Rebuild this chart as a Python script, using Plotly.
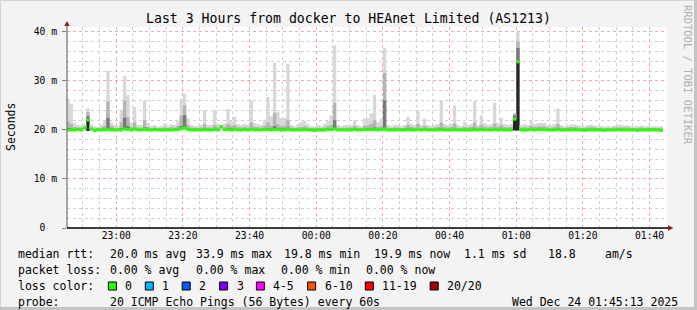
import plotly.graph_objects as go
from datetime import datetime, timedelta

# ---------------- data ----------------
rtt_max = [
    26.3, 25.3, 21.5, 21.0, 21.0, 21.2, 24.5, 21.2, 20.8, 20.6,
    21.0, 21.8, 32.0, 21.5, 21.0, 20.8, 24.1, 31.0, 27.2, 21.5,
    24.7, 21.0, 21.0, 26.0, 21.4, 20.8, 21.0, 20.7, 20.8, 21.3,
    20.9, 21.2, 21.0, 21.8, 26.3, 27.3, 22.4, 21.0, 20.8, 20.8,
    21.0, 24.0, 21.0, 21.0, 24.0, 21.2, 21.0, 21.3, 24.3, 21.8,
    22.7, 21.2, 21.0, 21.2, 21.0, 26.0, 21.4, 21.2, 21.0, 22.0,
    26.7, 22.8, 33.7, 23.7, 22.4, 22.5, 33.5, 21.0, 20.8, 21.2,
    21.6, 21.9, 21.2, 20.8, 20.7, 21.0, 20.8, 21.2, 21.9, 23.0,
    37.2, 21.0, 20.8, 21.0, 21.0, 21.0, 22.0, 21.0, 20.8, 22.3,
    22.4, 23.4, 27.2, 21.6, 22.3, 36.7, 21.0, 20.8, 21.1, 21.0,
    20.8, 21.0, 22.7, 21.2, 21.0, 23.9, 21.0, 22.3, 21.0, 20.8,
    21.0, 21.2, 26.0, 21.2, 21.0, 21.2, 25.0, 21.0, 20.8, 21.6,
    21.0, 21.2, 25.9, 21.0, 23.0, 21.4, 21.0, 21.2, 25.6, 21.4,
    22.5, 21.2, 21.0, 21.2, 23.5, 40.0, 21.0, 21.2, 21.0, 22.0,
    21.2, 21.4, 21.4, 21.4, 21.0, 21.0, 21.2, 24.4, 21.0, 20.8,
    20.9, 21.1, 21.1, 21.0, 20.8, 20.8, 21.0, 21.1, 20.9, 20.8,
    20.8, 20.7, 20.8, 20.7, 20.9, 21.0, 21.0, 20.9, 20.9, 20.8,
    20.7, 20.8, 20.9, 20.8, 20.8, 20.7, 20.8, 20.7, 20.8,
]
rtt_upper = [
    21.6, 21.2, 20.6, 20.5, 20.5, 20.6, 23.6, 20.6, 20.4, 20.4,
    20.5, 20.8, 25.8, 20.8, 20.5, 20.4, 21.5, 26.0, 22.6, 20.6,
    21.5, 20.5, 20.5, 22.0, 20.6, 20.4, 20.5, 20.4, 20.4, 20.5,
    20.4, 20.6, 20.5, 20.8, 23.0, 25.0, 21.0, 20.5, 20.4, 20.4,
    20.5, 21.2, 20.5, 20.5, 21.0, 20.6, 20.5, 20.6, 21.2, 20.8,
    21.0, 20.6, 20.5, 20.6, 20.5, 21.5, 20.6, 20.6, 20.5, 20.8,
    21.5, 20.8, 23.5, 21.2, 20.8, 20.9, 22.0, 20.5, 20.4, 20.5,
    20.6, 20.8, 20.5, 20.4, 20.4, 20.5, 20.4, 20.5, 20.8, 21.0,
    25.5, 20.5, 20.4, 20.5, 20.5, 20.5, 20.8, 20.5, 20.4, 20.8,
    20.9, 21.2, 22.0, 20.6, 20.8, 31.6, 20.5, 20.4, 20.5, 20.5,
    20.4, 20.5, 21.0, 20.6, 20.5, 21.2, 20.5, 20.8, 20.5, 20.4,
    20.5, 20.6, 21.5, 20.6, 20.5, 20.6, 21.3, 20.5, 20.4, 20.6,
    20.5, 20.6, 21.5, 20.5, 21.0, 20.6, 20.5, 20.6, 21.3, 20.6,
    21.0, 20.6, 20.5, 20.6, 23.3, 38.0, 20.5, 20.6, 20.5, 20.8,
    20.6, 20.7, 20.7, 20.7, 20.5, 20.5, 20.6, 21.2, 20.5, 20.4,
    20.5, 20.6, 20.6, 20.5, 20.4, 20.4, 20.5, 20.6, 20.5, 20.4,
    20.4, 20.4, 20.4, 20.4, 20.5, 20.5, 20.5, 20.5, 20.5, 20.4,
    20.4, 20.4, 20.5, 20.4, 20.4, 20.4, 20.4, 20.4, 20.4,
]
rtt_inner = [
    20.4, 20.3, 20.2, 20.2, 20.2, 20.5, 22.8, 20.3, 20.2, 20.2,
    20.2, 20.3, 22.5, 20.3, 20.2, 20.2, 20.4, 22.5, 20.8, 20.2,
    20.4, 20.2, 20.2, 20.5, 20.2, 20.2, 20.2, 20.2, 20.2, 20.2,
    20.2, 20.2, 20.2, 20.3, 20.8, 23.0, 20.3, 20.2, 20.2, 20.2,
    20.2, 20.4, 20.2, 20.2, 20.3, 20.2, 20.9, 20.2, 20.4, 20.3,
    20.3, 20.2, 20.2, 20.2, 20.2, 20.4, 20.2, 20.2, 20.2, 20.3,
    20.4, 20.3, 20.8, 20.4, 20.3, 20.3, 20.5, 20.2, 20.2, 20.2,
    20.2, 20.3, 20.2, 20.2, 20.2, 20.2, 20.2, 20.2, 20.3, 20.3,
    22.0, 20.2, 20.2, 20.2, 20.2, 20.2, 20.3, 20.2, 20.2, 20.3,
    20.3, 20.4, 20.5, 20.2, 20.3, 26.0, 20.2, 20.2, 20.2, 20.2,
    20.2, 20.2, 20.3, 20.2, 20.2, 20.4, 20.2, 20.3, 20.2, 20.2,
    20.2, 20.2, 20.4, 20.2, 20.2, 20.2, 20.3, 20.2, 20.2, 20.2,
    20.2, 20.2, 20.4, 20.2, 20.3, 20.2, 20.2, 20.2, 20.3, 20.2,
    20.3, 20.2, 20.2, 20.2, 23.0, 36.7, 20.2, 20.2, 20.2, 20.3,
    20.2, 20.2, 20.2, 20.2, 20.2, 20.2, 20.2, 20.4, 20.2, 20.2,
    20.2, 20.2, 20.2, 20.2, 20.2, 20.2, 20.2, 20.2, 20.2, 20.2,
    20.2, 20.2, 20.2, 20.2, 20.2, 20.2, 20.2, 20.2, 20.2, 20.2,
    20.2, 20.2, 20.2, 20.2, 20.2, 20.2, 20.2, 20.2, 20.2,
]
rtt_median = [
    20.0, 20.0, 20.0, 20.1, 20.0, 20.4, 22.0, 20.2, 19.9, 20.0,
    20.0, 20.1, 20.1, 20.0, 20.0, 20.0, 20.0, 20.2, 20.1, 20.0,
    20.2, 20.0, 20.0, 20.1, 20.0, 20.0, 20.1, 20.0, 20.0, 20.0,
    20.0, 20.0, 20.1, 20.1, 20.3, 20.4, 20.1, 20.0, 20.0, 20.0,
    20.0, 20.1, 20.0, 20.0, 20.1, 20.0, 20.6, 20.1, 20.1, 20.0,
    20.1, 20.0, 20.0, 20.1, 20.0, 20.1, 20.0, 20.0, 20.0, 20.1,
    20.1, 20.0, 20.1, 20.1, 20.0, 20.0, 20.1, 20.0, 20.0, 20.0,
    20.0, 20.1, 20.0, 20.0, 19.9, 20.0, 20.0, 20.0, 20.1, 20.1,
    20.2, 20.0, 20.0, 20.0, 20.0, 20.0, 20.1, 20.0, 20.0, 20.1,
    20.1, 20.1, 20.1, 20.0, 20.1, 20.2, 20.0, 20.0, 20.0, 20.0,
    20.0, 20.0, 20.1, 20.0, 20.0, 20.1, 20.0, 20.1, 20.0, 20.0,
    20.0, 20.0, 20.1, 20.0, 20.0, 20.0, 20.1, 20.0, 20.0, 20.0,
    20.0, 20.0, 20.1, 20.0, 20.1, 20.0, 20.0, 20.0, 20.1, 20.0,
    20.1, 20.0, 20.0, 20.0, 22.2, 33.9, 20.0, 20.0, 20.0, 20.1,
    20.0, 20.1, 20.1, 20.1, 20.0, 20.0, 20.0, 20.1, 20.0, 20.0,
    20.0, 20.0, 20.1, 20.0, 20.0, 19.9, 20.0, 20.0, 20.0, 20.0,
    20.0, 19.9, 20.0, 20.0, 20.0, 20.1, 20.0, 20.0, 20.0, 20.0,
    20.0, 19.9, 20.0, 20.0, 20.0, 20.0, 20.0, 20.0, 19.9,
]
rtt_low = [
    19.7, 19.7, 19.7, 19.7, 19.7, 19.7, 19.8, 19.7, 19.7, 19.7,
    19.7, 19.7, 19.7, 19.7, 19.7, 19.7, 19.7, 19.7, 19.7, 19.7,
    19.7, 19.7, 19.7, 19.7, 19.7, 19.7, 19.7, 19.7, 19.7, 19.7,
    19.7, 19.7, 19.7, 19.7, 19.7, 19.7, 19.7, 19.7, 19.7, 19.7,
    19.7, 19.7, 19.7, 19.7, 19.7, 19.7, 19.7, 19.7, 19.7, 19.7,
    19.7, 19.7, 19.7, 19.7, 19.7, 19.7, 19.7, 19.7, 19.7, 19.7,
    19.7, 19.7, 19.7, 19.7, 19.7, 19.7, 19.7, 19.7, 19.7, 19.7,
    19.7, 19.7, 19.7, 19.7, 19.7, 19.7, 19.7, 19.7, 19.7, 19.7,
    19.7, 19.7, 19.7, 19.7, 19.7, 19.7, 19.7, 19.7, 19.7, 19.7,
    19.7, 19.7, 19.7, 19.7, 19.7, 19.7, 19.7, 19.7, 19.7, 19.7,
    19.7, 19.7, 19.7, 19.7, 19.7, 19.7, 19.7, 19.7, 19.7, 19.7,
    19.7, 19.7, 19.7, 19.7, 19.7, 19.7, 19.7, 19.7, 19.7, 19.7,
    19.7, 19.7, 19.7, 19.7, 19.7, 19.7, 19.7, 19.7, 19.7, 19.7,
    19.7, 19.7, 19.7, 19.7, 19.9, 19.9, 19.7, 19.7, 19.7, 19.7,
    19.7, 19.7, 19.7, 19.7, 19.7, 19.7, 19.7, 19.7, 19.7, 19.7,
    19.7, 19.7, 19.7, 19.7, 19.7, 19.7, 19.7, 19.7, 19.7, 19.7,
    19.7, 19.7, 19.7, 19.7, 19.7, 19.7, 19.7, 19.7, 19.7, 19.7,
    19.7, 19.7, 19.7, 19.7, 19.7, 19.7, 19.7, 19.7, 19.7,
]

x_tick_labels = ["23:00", "23:20", "23:40", "00:00", "00:20", "00:40", "01:00", "01:20", "01:40"]
x_tick_times = ["2025-12-23 23:00", "2025-12-23 23:20", "2025-12-23 23:40", "2025-12-24 00:00",
                "2025-12-24 00:20", "2025-12-24 00:40", "2025-12-24 01:00", "2025-12-24 01:20",
                "2025-12-24 01:40"]
y_tick_vals = [0, 10, 20, 30, 40]
y_tick_labels = ["0\u00a0\u00a0", "10 m", "20 m", "30 m", "40 m"]

title_text = "Last 3 Hours from docker to HEAnet Limited (AS1213)"
rtt_stats = ["20.0 ms avg", "33.9 ms max", "19.8 ms min", "19.9 ms now", "1.1 ms sd", "18.8", "am/s"]
loss_stats = ["0.00 % avg", "0.00 % max", "0.00 % min", "0.00 % now"]
loss_labels = ["0", "1", "2", "3", "4-5", "6-10", "11-19", "20/20"]
loss_colors = ["#26ff00", "#00b8ff", "#0059ff", "#7e00ff", "#ff00ff", "#ff5500", "#ff0000", "#a10000"]
probe_text = "20 ICMP Echo Pings (56 Bytes) every 60s"
stamp_text = "Wed Dec 24 01:45:13 2025"

# ---------------- geometry ----------------
W, H = 697, 310
L, R, T, B = 67, 667, 27, 228
def px(x):
    return (x - L) / (R - L)
def py(y):
    return (B - y) / (B - T)

t_start = datetime(2025, 12, 23, 22, 45, 13)
t_end = datetime(2025, 12, 24, 1, 45, 13)
first_bin = datetime(2025, 12, 23, 22, 45, 0)
step = timedelta(seconds=60)
n = len(rtt_median)
edges = [first_bin + step * i for i in range(n + 1)]

def ext(v):
    return list(v) + [v[-1]]

fig = go.Figure()

def band(lower, upper, color):
    fig.add_trace(go.Scatter(x=edges, y=ext(lower), mode="lines", line=dict(width=0, shape="hv"),
                             hoverinfo="skip"))
    fig.add_trace(go.Scatter(x=edges, y=ext(upper), mode="lines", line=dict(width=0, shape="hv"),
                             fill="tonexty", fillcolor=color, hoverinfo="skip"))

# smoke below the median
band(rtt_low, rtt_median, "#e0e0e0")
dark_low = [l if (m - l) > 1.5 else m for m, l in zip(rtt_median, rtt_low)]
band(dark_low, rtt_median, "#262626")
# smoke above the median
band(rtt_median, rtt_max, "#d8d8d8")
band(rtt_median, rtt_upper, "#b4b4b4")
band(rtt_median, rtt_inner, "#7a7a7a")

# median (green, 0 % loss) as horizontal segments per step
seg_x, seg_y = [], []
for i, m in enumerate(rtt_median):
    seg_x += [edges[i], edges[i + 1], None]
    seg_y += [m, m, None]
fig.add_trace(go.Scatter(x=seg_x, y=seg_y, mode="lines", line=dict(color="#26ff00", width=3),
                         hoverinfo="skip", connectgaps=False))

mono = "DejaVu Sans Mono"
fig.update_layout(
    width=W, height=H,
    margin=dict(l=L, r=W - R, t=T, b=H - B, pad=0),
    paper_bgcolor="#f3f3f3", plot_bgcolor="#ffffff",
    showlegend=False,
    font=dict(family=mono, size=10, color="#000000"),
    xaxis=dict(type="date", range=[t_start, t_end],
               tickmode="array", tickvals=x_tick_times, ticktext=x_tick_labels,
               showgrid=True, gridcolor="#f0a8a8", griddash="dot", gridwidth=1,
               minor=dict(dtick=300000, tick0="2025-12-23 23:00", showgrid=True,
                          gridcolor="#cfcfcf", griddash="dot", gridwidth=1),
               showline=False, zeroline=False, ticks="", tickfont=dict(family=mono, size=9.7),
               fixedrange=True),
    yaxis=dict(range=[0, 41], tickmode="array", tickvals=y_tick_vals, ticktext=y_tick_labels,
               showgrid=True, gridcolor="#f0a8a8", griddash="dot", gridwidth=1,
               minor=dict(dtick=2, tick0=0, showgrid=True, gridcolor="#cfcfcf", griddash="dot", gridwidth=1),
               showline=False, zeroline=False, ticks="outside", ticklen=4, tickcolor="#808080",
               ticklabelstandoff=3, tickfont=dict(family=mono, size=9.7), fixedrange=True),
)

shapes = []
# frame
shapes.append(dict(type="rect", xref="paper", yref="paper", x0=px(0.5), x1=px(W - 0.5), y0=py(0.5), y1=py(H - 0.5),
                   line=dict(color="#d4d4d4", width=1), layer="above"))
shapes.append(dict(type="line", xref="paper", yref="paper", x0=px(W - 1.5), x1=px(W - 1.5), y0=py(0), y1=py(H),
                   line=dict(color="#c4c4c4", width=3), layer="above"))
shapes.append(dict(type="line", xref="paper", yref="paper", x0=px(0), x1=px(W), y0=py(H - 1.5), y1=py(H - 1.5),
                   line=dict(color="#c4c4c4", width=3), layer="above"))
# axes
shapes.append(dict(type="line", xref="paper", yref="paper", x0=0, x1=0, y0=0, y1=py(24),
                   line=dict(color="#707070", width=1.2), layer="above"))
shapes.append(dict(type="line", xref="paper", yref="paper", x0=0, x1=px(670), y0=0, y1=0,
                   line=dict(color="#000000", width=1.5), layer="above"))
# arrows
shapes.append(dict(type="path", xref="paper", yref="paper",
                   path=f"M {px(64.3)} {py(26)} L {px(69.7)} {py(26)} L {px(67)} {py(21)} Z",
                   fillcolor="#9b1c1c", line=dict(width=0), layer="above"))
shapes.append(dict(type="path", xref="paper", yref="paper",
                   path=f"M {px(668)} {py(225.3)} L {px(668)} {py(230.7)} L {px(673.5)} {py(228)} Z",
                   fillcolor="#9b1c1c", line=dict(width=0), layer="above"))

ann = []
def txt(x, y, s, size=11.5, anchor="left", color="#000000", angle=0):
    ann.append(dict(xref="paper", yref="paper", x=px(x), y=py(y), text=s, showarrow=False,
                    xanchor=anchor, yanchor="middle", textangle=angle,
                    font=dict(family=mono, size=size, color=color)))

txt(348.5, 18.5, title_text, size=13.2, anchor="center")
txt(11, 127, "Seconds", size=11.5, anchor="center", angle=-90)
txt(688, 75, "RRDTOOL / TOBI OETIKER", size=10.5, anchor="center", color="#b0b0b0", angle=90)

Y1, Y2, Y3, Y4 = 254, 270, 286, 302
txt(16, Y1, "median rtt:")
for s, x in zip(rtt_stats, [107.6, 193.8, 282, 372, 462, 546, 603]):
    txt(x, Y1, s)
txt(16, Y2, "packet loss:")
for s, x in zip(loss_stats, [107.6, 193.8, 279, 364.4]):
    txt(x, Y2, s)
txt(16, Y3, "loss color:")
for lab, col, bx in zip(loss_labels, loss_colors, [108.4, 145.3, 182.2, 219.6, 256.4, 307.6, 365.3, 430.2]):
    shapes.append(dict(type="rect", xref="paper", yref="paper", x0=px(bx), x1=px(bx + 8),
                       y0=py(Y3 - 4), y1=py(Y3 + 4), fillcolor=col,
                       line=dict(color="#000000", width=1), layer="above"))
    txt(bx + 15, Y3, lab)
txt(16, Y4, "probe:")
txt(107.6, Y4, probe_text)
txt(680, Y4, stamp_text, anchor="right")

fig.update_layout(shapes=shapes, annotations=ann)
fig.write_html("out.html")
